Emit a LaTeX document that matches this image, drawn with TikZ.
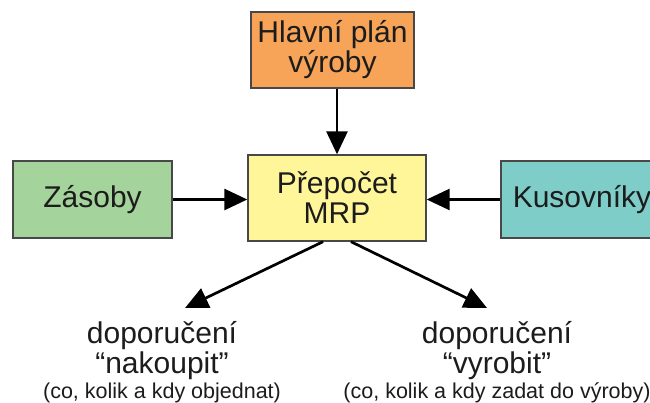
\documentclass[tikz,border=0pt]{standalone}
\usepackage{fontspec}
\setmainfont{Liberation Sans}
\usetikzlibrary{arrows.meta}

\definecolor{planorange}{RGB}{247,164,88}
\definecolor{mrpyellow}{RGB}{255,246,153}
\definecolor{stockgreen}{RGB}{164,211,155}
\definecolor{bomteal}{RGB}{126,205,200}
\definecolor{boxline}{RGB}{72,72,72}
\definecolor{textdark}{RGB}{28,28,28}

\begin{document}
\begin{tikzpicture}[x=1pt,y=-1pt,
  box/.style={draw=boxline, line width=1.4pt, align=center, inner sep=0pt,
    text=textdark, font=\fontsize{30}{30}\selectfont},
  flow/.style={draw=black, line width=2.7pt, -{Triangle[length=23pt,width=21pt]}},
  outtext/.style={anchor=base, inner sep=0pt, text=textdark},
  big/.style={font=\fontsize{30}{30}\selectfont},
  small/.style={font=\fontsize{21.5}{22}\selectfont}]

\useasboundingbox (0,0) rectangle (650,403);
\clip (0,0) rectangle (650,403);
\fill[white] (0,0) rectangle (650,403);

% boxes
\node[box, fill=planorange, minimum width=163pt, minimum height=76pt] (plan) at (332.5,50) {Hlavní plán\\výroby};
\node[box, fill=mrpyellow, minimum width=178pt, minimum height=86pt] (mrp) at (337,198) {Přepočet\\MRP};
\node[box, fill=stockgreen, minimum width=159pt, minimum height=77pt] (zas) at (92.5,199.5) {Zásoby};
\node[box, fill=bomteal, minimum width=162pt, minimum height=77pt] (kus) at (582,199.5) {Kusovníky};

% inputs into the MRP run
\draw[flow] (plan.south -| mrp.north) -- (mrp.north);
\draw[flow] (zas.east) -- (zas.east -| mrp.west);
\draw[flow] (kus.west) -- (kus.west -| mrp.east);

% outputs
\coordinate (buyTip) at (185,308);
\coordinate (makeTip) at (487,308);
\draw[flow] ([xshift=-14pt]mrp.south) -- (buyTip);
\draw[flow] ([xshift=14pt]mrp.south) -- (makeTip);

% recommendations
\node[outtext, big] (buy1) at (162,343) {doporučení};
\node[outtext, big] (buy2) at (162,373) {“nakoupit”};
\node[outtext, small] (buy3) at (162,398) {(co, kolik a kdy objednat)};

\node[outtext, big] (make1) at (497,343) {doporučení};
\node[outtext, big] (make2) at (497,373) {“vyrobit”};
\node[outtext, small] (make3) at (497,398) {(co, kolik a kdy zadat do výroby)};
\end{tikzpicture}
\end{document}
